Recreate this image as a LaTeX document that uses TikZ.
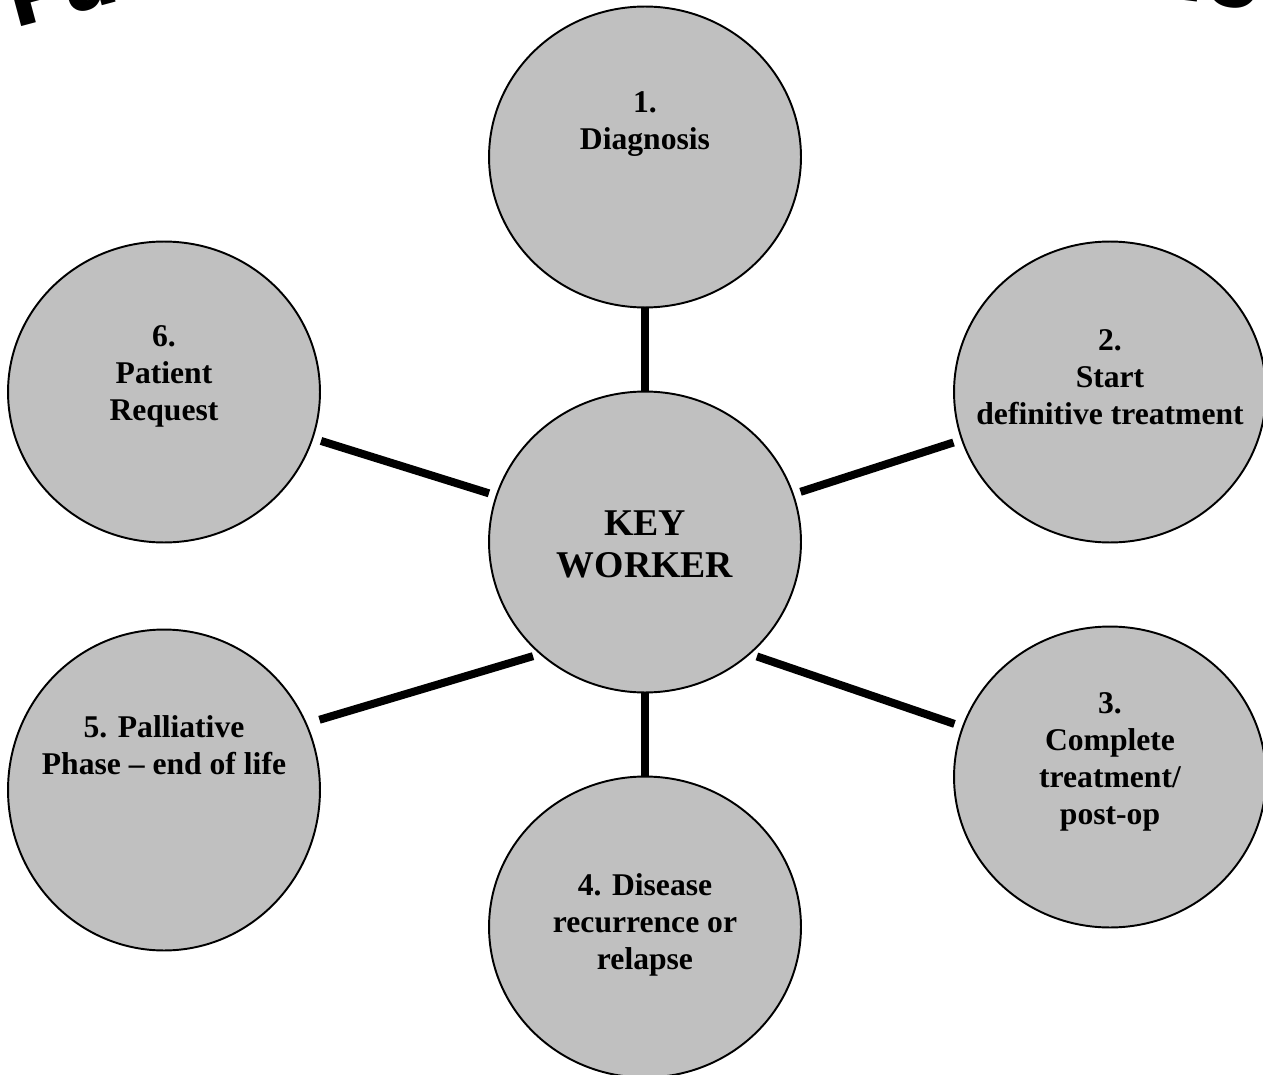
\documentclass[tikz,border=0pt]{standalone}
\usepackage{fontspec}
\setmainfont{Liberation Serif}
\newfontfamily\headfont{DejaVu Sans}
\usetikzlibrary{shapes.geometric}
\definecolor{kwGray}{HTML}{C0C0C0}
\tikzset{
  kw diagram/.style={
    x=0.02cm, y=-0.02cm, line width=1.1pt,
    every node/.style={inner sep=0pt, outer sep=0pt, text=black}
  },
  kw stage/.style={ellipse, draw=black, fill=kwGray, line width=1.1pt,
    minimum width=6.24cm, minimum height=6.02cm},
  kw text/.style={align=center, font=\fontsize{18}{21}\selectfont\bfseries},
  kw link/.style={line width=0.16cm, draw=black},
  kw gap/.style={kw link, shorten <=0.16cm, shorten >=0.18cm},
  kw head/.style={anchor=base west,
    font=\headfont\bfseries\fontsize{46}{46}\selectfont}
}

\begin{document}
\begin{tikzpicture}[kw diagram]
    \useasboundingbox (0,0) rectangle (1263,1074);
    % heading, mostly above the page
    \node[kw head, rotate=15] (headL) at (14,29) {Pat};
    \node[kw head, rotate=-7] (headR) at (1138,-5) {tion};
    % stages
    \node[kw stage] (kw) at (645,542) {};
    \node[kw stage] (n1) at (645,157) {};
    \node[kw stage] (n2) at (1110,392) {};
    \node[kw stage] (n3) at (1110,777) {};
    \node[kw stage] (n4) at (645,927) {};
    \node[kw stage, minimum height=6.42cm] (n5) at (164,790) {};
    \node[kw stage] (n6) at (164,392) {};
    \node[align=center, font=\fontsize{21.5}{24}\selectfont\bfseries] (tkw) at (645,544) {KEY\\WORKER};
    \node[kw text] (t1) at (645,124) {1.\\Diagnosis};
    \node[kw text] (t2) at (1110,377) {2.\\Start\\definitive treatment};
    \node[kw text] (t3) at (1110,762) {3.\\Complete\\treatment/\\post-op};
    \node[kw text] (t4) at (645,925) {4. Disease\\recurrence or\\relapse};
    \node[kw text] (t5) at (164,745) {5. Palliative\\Phase -- end of life};
    \node[kw text] (t6) at (164,376) {6.\\Patient\\Request};
    % links
    \draw[kw link] (n1) -- (kw);
    \draw[kw link] (kw) -- (n4);
    \draw[kw gap] (kw) -- (n2);
    \draw[kw gap] (kw.-47) -- (n3);
    \draw[kw gap, shorten >=0.28cm] (kw.-133) -- (n5.25);
    \draw[kw gap] (kw) -- (n6);
\end{tikzpicture}
\end{document}
